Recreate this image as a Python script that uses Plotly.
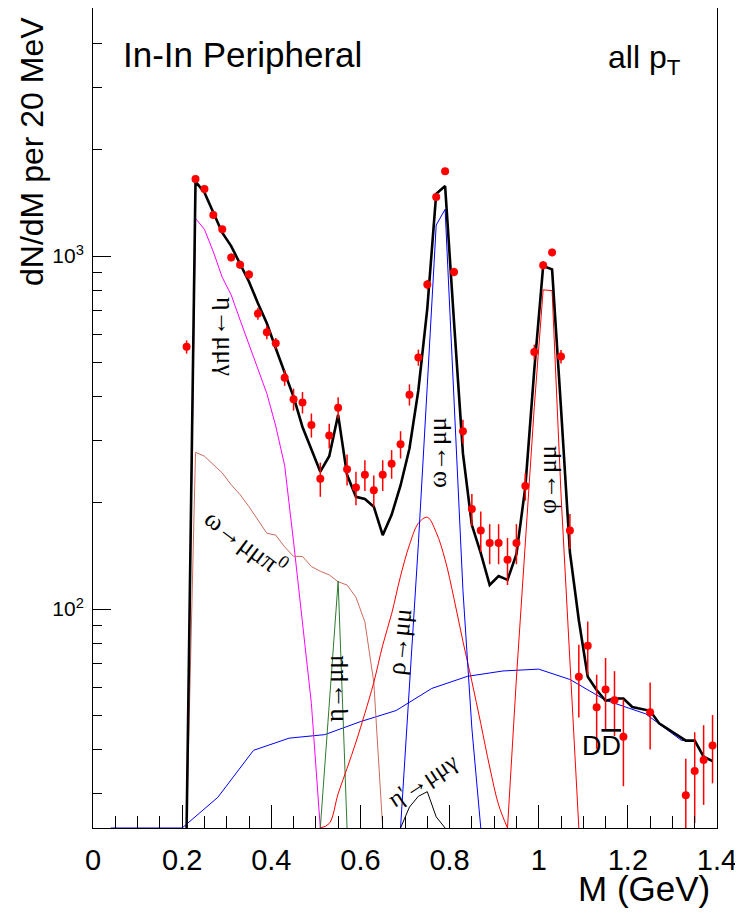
import numpy as np
import plotly.graph_objects as go

# ---------------- data ----------------
data_mass = [0.21, 0.23, 0.25, 0.27, 0.29, 0.31, 0.33, 0.35, 0.37, 0.39,
             0.41, 0.43, 0.45, 0.47, 0.49, 0.51, 0.53, 0.55, 0.57, 0.59,
             0.61, 0.63, 0.65, 0.67, 0.69, 0.71, 0.73, 0.75, 0.77, 0.79,
             0.81, 0.83, 0.85, 0.87, 0.89, 0.91, 0.93, 0.95, 0.97, 0.99,
             1.01, 1.03, 1.05, 1.07, 1.09, 1.11, 1.13, 1.15, 1.17, 1.19,
             1.25, 1.33, 1.35, 1.37, 1.39]
data_counts = [553, 1653, 1548, 1307, 1190, 991, 945, 886, 687, 608,
               566, 452, 393, 385, 332, 234, 310, 372, 249, 221,
               240, 217, 240, 258, 293, 405, 516, 830, 1469, 1738,
               901, 319, 192, 167, 154, 154, 138, 154, 223, 535,
               942, 1024, 519, 167, 64.3, 78.7, 52.7, 59.2, 55.2, 43.5,
               51, 29.7, 34.8, 37.4, 41.1]
data_err = [24, 25, 25, 25, 25, 25, 25, 25, 27, 27,
            20, 23, 28, 27, 26, 26, 25, 26, 25, 24,
            24, 22, 24, 24, 26, 28, 27, 25, 25, 25,
            25, 25, 20, 22, 20, 20, 21, 20, 20, 26,
            25, 25, 23, 19, 15, 13.5, 12.5, 13.5, 11.5, 12,
            11, 8, 10, 9.5, 9]

total_mass = [round(0.21 + 0.02 * i, 2) for i in range(60)]
total_vals = [0, 1624, 1514, 1322, 1164, 1067, 949, 846, 735, 645,
              548, 466, 399, 328, 285, 245, 271, 355, 240, 208,
              205, 195, 162, 185, 224, 285, 417, 710, 1500, 1579,
              650, 276, 173, 144, 117, 124, 121, 143, 222, 475,
              937, 917, 371, 145, 93, 64.3, 59, 55, 55.8, 55.8,
              52.8, 52.2, 51.5, 47.5, 45.8, 44.1, 42.4, 42.4, 38.2, 37.1]

eta_dalitz_mass = [round(0.21 + 0.02 * i, 2) for i in range(16)]
eta_dalitz_vals = [0, 1278, 1190, 1028, 870, 776, 659, 560, 481, 408,
                   330, 255, 155, 93, 54, 0]

omega_dalitz_mass = [round(0.21 + 0.02 * i, 2) for i in range(23)]
omega_dalitz_vals = [0, 278, 271, 256, 243, 225, 211, 195, 179, 164,
                     162, 150, 141, 141, 132, 128, 125, 119.5, 117, 108,
                     92, 62, 0]

eta_mumu_mass = [0.51, 0.53, 0.55, 0.57]
eta_mumu_vals = [0, 54, 120, 0]

rho_mass = [round(0.51 + 0.02 * i, 2) for i in range(22)]
rho_vals = [0, 24.7, 30, 35.4, 42, 50.7, 62, 79, 97, 124,
            152, 175, 182, 165, 138, 107, 81, 62.4, 47.4, 35.7,
            27.9, 0]

omega_mass = [0.69, 0.71, 0.73, 0.75, 0.77, 0.79, 0.81, 0.83, 0.85, 0.87]
omega_vals = [0, 61, 153, 430, 1224, 1356, 392, 113, 46, 0]

phi_mass = [0.93, 0.95, 0.97, 0.99, 1.01, 1.03, 1.05, 1.07, 1.09]
phi_vals = [0, 63.8, 154, 373, 802, 798, 212, 68.3, 0]

etap_mass = [0.69, 0.71, 0.73, 0.75, 0.77, 0.79]
etap_vals = [0, 27.5, 29.5, 30.4, 25.8, 0]

dd_mass = [0.04, 0.20, 0.28, 0.36, 0.44, 0.52, 0.60, 0.68, 0.76, 0.84,
           0.92, 1.00, 1.07, 1.15, 1.24, 1.27, 1.32, 1.35, 1.37, 1.39]
dd_vals = [0, 0, 29.3, 39.8, 43.1, 44.1, 48, 51.6, 59.6, 64.5,
           66.8, 67.6, 63.2, 55.2, 50.5, 47.4, 42.5, 42.2, 38.2, 37.1]

y_tickvals = [100, 1000]
y_ticktext = ["10<sup>2</sup>", "10<sup>3</sup>"]
y_minor = [30, 40, 50, 60, 70, 80, 90, 200, 300, 400, 500, 600, 700, 800,
           900, 2000, 3000, 4000]

# ---------------- layout constants ----------------
OFF = 8                      # page body margin of the html page
W, H = 743 - OFF, 917 - OFF
L, R, T, B = 93 - OFF, 26, 8 - OFF, 89
PW, PH = W - L - R, H - T - B
Y_LO, Y_HI = 1.38, 3.7025
FLOOR = 10 ** Y_LO


def floor_clip(v):
    # values at or below the frame minimum are drawn on the frame floor
    return np.maximum(np.asarray(v, dtype=float), FLOOR)


def px(x):
    return (x - OFF - L) / PW


def py(y):
    return (T + PH - (y - OFF)) / PH


fig = go.Figure()


def add_line(xs, ys, color, width=1.0, shape="linear"):
    fig.add_trace(go.Scatter(x=xs, y=floor_clip(ys), mode="lines",
                             line=dict(color=color, width=width, shape=shape),
                             hoverinfo="skip", showlegend=False))


add_line(dd_mass, dd_vals, "#0000ff")
add_line(eta_dalitz_mass, eta_dalitz_vals, "#ff00ff")
add_line(omega_dalitz_mass, omega_dalitz_vals, "#cc6a5c")
add_line(eta_mumu_mass, eta_mumu_vals, "#2e7a2e")
add_line(rho_mass, rho_vals, "#ff0000", shape="spline")
add_line(omega_mass, omega_vals, "#0000ff")
add_line(phi_mass, phi_vals, "#ff0000")
add_line(etap_mass, etap_vals, "#000000")
add_line(total_mass, total_vals, "#000000", width=2.6)

fig.add_trace(go.Scatter(
    x=data_mass, y=data_counts, mode="markers",
    marker=dict(color="#ff0000", size=8, symbol="circle"),
    error_y=dict(type="data", array=data_err, color="#ff0000",
                 thickness=1.5, width=0),
    hoverinfo="skip", showlegend=False))

SANS = "Liberation Sans, Arial, Helvetica, sans-serif"
SERIF = "Liberation Serif, DejaVu Serif, serif"

ann = []


def label(text, x, y, size, angle=0, xanchor="center", family=SANS):
    ann.append(dict(text=text, x=px(x), y=py(y), xref="paper", yref="paper",
                    showarrow=False, textangle=angle, xanchor=xanchor,
                    yanchor="middle", font=dict(size=size, color="black",
                                                family=family)))


label("In-In Peripheral", 121, 54, 35, xanchor="left")
label("all p<sub>T</sub>", 606, 60, 32, xanchor="left")
label("dN/dM per 20 MeV", 32, 152, 32, angle=-90)
label("M (GeV)", 712, 888, 35, xanchor="right")
label("η→μμγ", 226, 336, 26, angle=90, family=SERIF)
label("ω→μμπ<sup>0</sup>", 246, 541, 26, angle=37, family=SERIF)
label("η→μμ", 334, 689, 26, angle=-90, family=SERIF)
label("ρ→μμ", 399, 642, 26, angle=-84, family=SERIF)
label("ω→μμ", 437, 453, 26, angle=-90, family=SERIF)
label("φ→μμ", 547, 480, 26, angle=-90, family=SERIF)
label("η'→μμγ", 423, 780, 24, angle=-33, family=SERIF)
label('D<span style="text-decoration:overline">D</span>', 601, 746, 27)

fig.update_layout(
    width=W, height=H,
    margin=dict(l=L, r=R, t=T, b=B, pad=0),
    paper_bgcolor="white", plot_bgcolor="white",
    showlegend=False,
    annotations=ann,
    xaxis=dict(range=[0, 1.4], tick0=0, dtick=0.2, ticks="inside",
               ticklen=23, tickwidth=1, tickcolor="black",
               showline=True, linecolor="black", linewidth=1, mirror=True,
               showgrid=False, zeroline=False, layer="above traces",
               tickfont=dict(size=29, family=SANS, color="black"),
               ticklabelstandoff=6,
               minor=dict(dtick=0.05, ticks="inside", ticklen=12,
                          tickwidth=1, tickcolor="black", showgrid=False)),
    yaxis=dict(type="log", range=[Y_LO, Y_HI], tickmode="array",
               tickvals=y_tickvals, ticktext=y_ticktext, ticks="inside",
               ticklen=18, tickwidth=1, tickcolor="black",
               showline=True, linecolor="black", linewidth=1, mirror=True,
               showgrid=False, zeroline=False, layer="above traces",
               tickfont=dict(size=21, family=SANS, color="black"),
               ticklabelstandoff=4,
               minor=dict(tickmode="array", tickvals=y_minor, ticks="inside",
                          ticklen=9, tickwidth=1, tickcolor="black",
                          showgrid=False)),
)

fig.write_html("out.html")
